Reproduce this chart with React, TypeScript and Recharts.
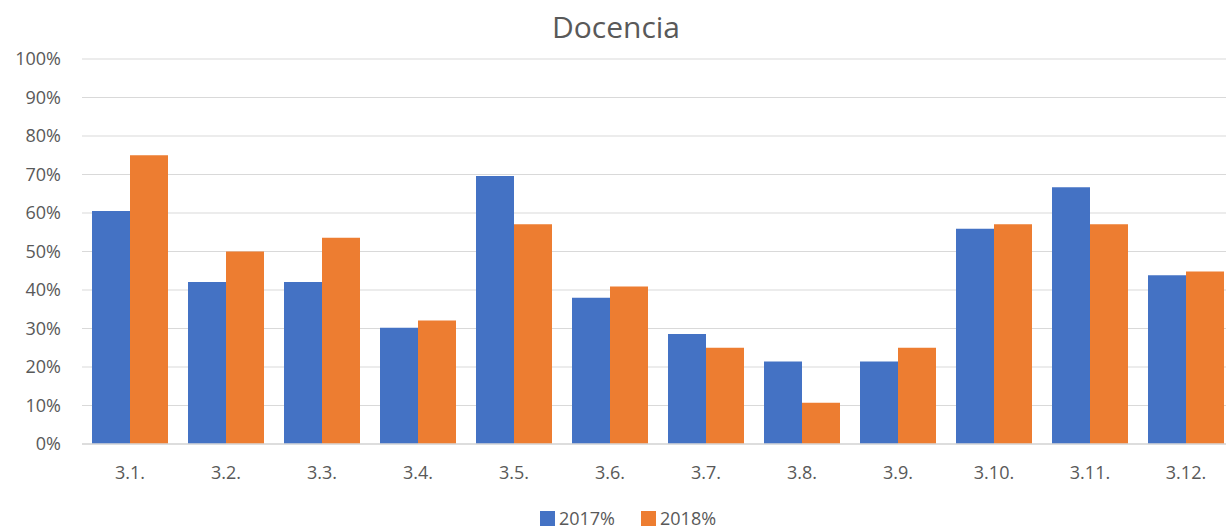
import { Bar, BarChart, CartesianGrid, Legend, XAxis, YAxis } from "recharts";

const categories = ["3.1.", "3.2.", "3.3.", "3.4.", "3.5.", "3.6.", "3.7.", "3.8.", "3.9.", "3.10.", "3.11.", "3.12."];
const values2017 = [60.5, 42.1, 42.1, 30.2, 69.6, 38.0, 28.6, 21.4, 21.4, 55.9, 66.7, 43.8];
const values2018 = [75.0, 50.0, 53.6, 32.1, 57.1, 40.9, 25.0, 10.7, 25.0, 57.1, 57.1, 44.8];
const yTicks = [0, 10, 20, 30, 40, 50, 60, 70, 80, 90, 100];

const BLUE = "#4472C4";
const ORANGE = "#ED7D31";
const TEXT = "#595959";
const FONT = "'Open Sans', 'Noto Sans', sans-serif";

const data = categories.map((name, i) => ({ name, y2017: values2017[i], y2018: values2018[i] }));

function LegendContent() {
  const items = [
    { label: "2017%", color: BLUE },
    { label: "2018%", color: ORANGE },
  ];
  return (
    <div
      style={{
        display: "flex",
        justifyContent: "center",
        paddingLeft: 22,
        paddingTop: 14,
        gap: 26,
        fontFamily: FONT,
        fontSize: 18,
        lineHeight: "20px",
        color: TEXT,
      }}
    >
      {items.map((item) => (
        <div key={item.label} style={{ display: "flex", alignItems: "center", gap: 4 }}>
          <span style={{ display: "inline-block", width: 15, height: 15, background: item.color }} />
          <span>{item.label}</span>
        </div>
      ))}
    </div>
  );
}

export default function App() {
  return (
    <div style={{ position: "absolute", left: 0, top: 0, width: 1226, height: 530, overflow: "hidden", background: "#fff" }}>
      <div
        style={{
          position: "absolute",
          top: 7,
          left: 0,
          width: 1232,
          textAlign: "center",
          fontFamily: FONT,
          fontSize: 30,
          lineHeight: "40px",
          color: TEXT,
        }}
      >
        Docencia
      </div>
      <BarChart
        width={1240}
        height={530}
        data={data}
        margin={{ top: 59, right: 6, left: 0, bottom: 0 }}
        barCategoryGap={10}
        barGap={0}
      >
        <CartesianGrid vertical={false} stroke="#d9d9d9" strokeWidth={1.2} />
        <XAxis
          dataKey="name"
          height={50}
          tickLine={false}
          axisLine={{ stroke: "#d9d9d9", strokeWidth: 1.5 }}
          tickSize={0}
          tickMargin={22}
          tick={{ fill: TEXT, fontSize: 18, fontFamily: FONT }}
        />
        <YAxis
          width={82}
          domain={[0, 100]}
          ticks={yTicks}
          interval={0}
          tickFormatter={(v) => `${v}%`}
          tickLine={false}
          axisLine={false}
          tickSize={0}
          tickMargin={21}
          tick={{ fill: TEXT, fontSize: 18, fontFamily: FONT }}
        />
        <Legend verticalAlign="bottom" height={36} content={<LegendContent />} />
        <Bar dataKey="y2017" name="2017%" fill={BLUE} isAnimationActive={false} />
        <Bar dataKey="y2018" name="2018%" fill={ORANGE} isAnimationActive={false} />
      </BarChart>
    </div>
  );
}
